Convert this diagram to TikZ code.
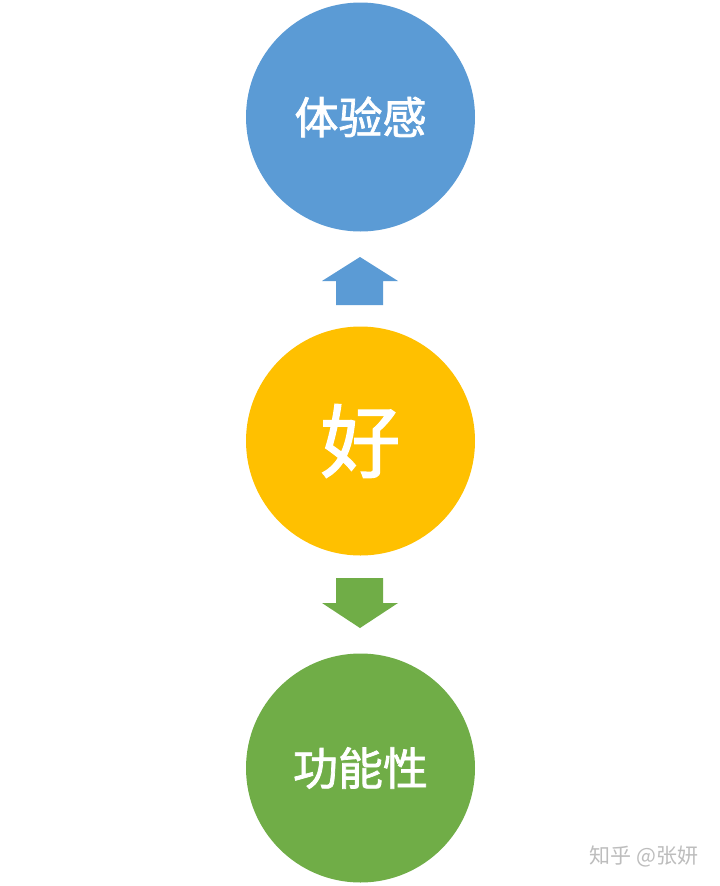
\documentclass[tikz,border=0pt]{standalone}
\usepackage{fontspec}
\newfontfamily\cjk{Noto Sans CJK SC}
\newfontfamily\cjkm{Noto Sans CJK SC}[FakeBold=1.6]
\definecolor{cblue}{HTML}{5B9BD5}
\definecolor{cgold}{HTML}{FFC000}
\definecolor{cgreen}{HTML}{70AD47}
\definecolor{wmgray}{HTML}{BDBDBD}
\begin{document}
\begin{tikzpicture}[x=1pt,y=-1pt,
  ball/.style={circle,minimum size=229pt,inner sep=0pt,text=white}]
\useasboundingbox[fill=white] (0,0) rectangle (720,886);
\node[ball,fill=cblue,font={\cjkm\fontsize{44}{44}\selectfont}] (top) at (360.5,117) {体验感};
\node[ball,fill=cgold,font={\cjkm\fontsize{80}{80}\selectfont}] (mid) at (360.5,441) {好};
\node[ball,fill=cgreen,font={\cjkm\fontsize{45}{45}\selectfont}] (bot) at (360.5,768) {功能性};
% up arrow
\fill[cblue] (360,257) -- (398,281) -- (383,281) -- (383,305) -- (336,305) -- (336,281) -- (322,281) -- cycle;
% down arrow
\fill[cgreen] (336,578) -- (383,578) -- (383,603) -- (398,603) -- (360,628) -- (322,603) -- (336,603) -- cycle;
\node[text=wmgray,font={\cjk\fontsize{21}{21}\selectfont},anchor=center] (wm) at (644,856) {知乎 @张妍};
\end{tikzpicture}
\end{document}
